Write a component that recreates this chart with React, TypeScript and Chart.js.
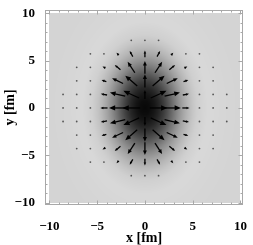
import { useEffect, useRef } from "react";
import { Chart, registerables } from "chart.js";
Chart.register(...registerables);

// Axis ticks and titles
const tickValues = [-10, -5, 0, 5, 10];
const tickLabels = ["−10", "−5", "0", "5", "10"];
const xTitle = "x [fm]";
const yTitle = "y [fm]";

// Vector grid positions (first quadrant, mirrored by symmetry)
const gridPos = [0, 1.43, 2.86, 4.29, 5.71, 7.14, 8.57];
// Arrow x-components (rows: y index, cols: x index), in fm
const arrowU = [
  [0, 1.85, 1.8, 0.75, 0.2, 0.06, 0.04],
  [0, 1.65, 1.6, 0.65, 0.18, 0.05, 0.03],
  [0, 1.25, 1.15, 0.5, 0.14, 0.04, 0],
  [0, 0.75, 0.6, 0.3, 0.08, 0.02, 0],
  [0, 0.32, 0.22, 0.1, 0.03, 0, 0],
  [0, 0.03, 0, 0, 0, 0, 0],
  [0, 0, 0, 0, 0, 0, 0],
];
// Arrow y-components
const arrowV = [
  [0, 0, 0, 0, 0, 0, 0],
  [0.95, 0.75, 0.38, 0.12, 0.03, 0.01, 0.01],
  [1.4, 1.1, 0.55, 0.17, 0.04, 0.01, 0],
  [1.35, 1.15, 0.5, 0.16, 0.04, 0.01, 0],
  [0.7, 0.58, 0.26, 0.08, 0.02, 0, 0],
  [0.12, 0.06, 0, 0, 0, 0, 0],
  [0, 0, 0, 0, 0, 0, 0],
];

// Density (darkness) profile vs elliptic radius
const densityRho = [0, 0.5, 1, 1.5, 2, 2.5, 3, 3.5, 4, 4.5, 5, 5.5, 6, 6.5, 7, 8, 10, 20];
const densityDark = [1.0, 0.98, 0.93, 0.85, 0.74, 0.61, 0.47, 0.34, 0.23, 0.14, 0.07, 0.02, 0.0, -0.02, -0.02, -0.01, 0, 0];
const densityAspect = 1.4;

const FONT = '"Liberation Serif", "Times New Roman", serif';

type Pt = { x: number; y: number; u: number; v: number };
const arrowPoints: Pt[] = [];
for (let j = -6; j <= 6; j++) {
  for (let i = -6; i <= 6; i++) {
    const ai = Math.abs(i), aj = Math.abs(j);
    arrowPoints.push({
      x: Math.sign(i) * gridPos[ai],
      y: Math.sign(j) * gridPos[aj],
      u: Math.sign(i) * arrowU[aj][ai],
      v: Math.sign(j) * arrowV[aj][ai],
    });
  }
}

function darkAt(rho: number) {
  for (let k = 0; k < densityRho.length - 1; k++) {
    if (rho <= densityRho[k + 1]) {
      const t = (rho - densityRho[k]) / (densityRho[k + 1] - densityRho[k]);
      return densityDark[k] + t * (densityDark[k + 1] - densityDark[k]);
    }
  }
  return 0;
}

const BG = 212;
const DARK = 8;
const FRAME = "#a8a8a8";

const fieldPlugin = {
  id: "field",
  beforeDatasetsDraw(chart: any) {
    const { ctx, scales } = chart;
    const xs = scales.x, ys = scales.y;
    const x0 = xs.getPixelForValue(-10), x1 = xs.getPixelForValue(10);
    const y0 = ys.getPixelForValue(10), y1 = ys.getPixelForValue(-10);
    const w = Math.round(x1 - x0), h = Math.round(y1 - y0);
    const off = document.createElement("canvas");
    off.width = w; off.height = h;
    const octx = off.getContext("2d")!;
    const img = octx.createImageData(w, h);
    for (let py = 0; py < h; py++) {
      for (let px = 0; px < w; px++) {
        const dx = xs.getValueForPixel(x0 + px + 0.5);
        const dy = ys.getValueForPixel(y0 + py + 0.5);
        const rho = Math.hypot(dx, dy / densityAspect);
        const d = darkAt(rho);
        const g = Math.max(0, Math.min(255, BG - d * (BG - DARK)));
        const o = (py * w + px) * 4;
        img.data[o] = g; img.data[o + 1] = g; img.data[o + 2] = g; img.data[o + 3] = 255;
      }
    }
    octx.putImageData(img, 0, 0);
    ctx.save();
    ctx.drawImage(off, x0, y0, x1 - x0, y1 - y0);
    ctx.restore();
  },
  afterDatasetsDraw(chart: any) {
    const { ctx, scales, chartArea } = chart;
    const xs = scales.x, ys = scales.y;
    ctx.save();
    // frame
    ctx.strokeStyle = FRAME;
    ctx.lineWidth = 1;
    const L = Math.round(chartArea.left) + 0.5, R = Math.round(chartArea.right) - 0.5;
    const T = Math.round(chartArea.top) + 0.5, B = Math.round(chartArea.bottom) - 0.5;
    ctx.strokeRect(L, T, R - L, B - T);
    ctx.beginPath();
    for (let v = -10; v <= 10; v++) {
      const len = v % 5 === 0 ? 4 : 2;
      const px = Math.round(xs.getPixelForValue(v)) + 0.5;
      ctx.moveTo(px, B); ctx.lineTo(px, B - len);
      ctx.moveTo(px, T); ctx.lineTo(px, T + len);
      const py = Math.round(ys.getPixelForValue(v)) + 0.5;
      ctx.moveTo(L, py); ctx.lineTo(L + len, py);
      ctx.moveTo(R, py); ctx.lineTo(R - len, py);
    }
    ctx.stroke();

    // arrows
    const data: Pt[] = chart.data.datasets[0].data;
    ctx.fillStyle = "#000";
    ctx.strokeStyle = "#000";
    for (const p of data) {
      if (p.u === 0 && p.v === 0) continue;
      const cx = xs.getPixelForValue(p.x), cy = ys.getPixelForValue(p.y);
      const tx = xs.getPixelForValue(p.x + p.u / 2), ty = ys.getPixelForValue(p.y + p.v / 2);
      const sx = xs.getPixelForValue(p.x - p.u / 2), sy = ys.getPixelForValue(p.y - p.v / 2);
      const dx = tx - sx, dy = ty - sy;
      const len = Math.hypot(dx, dy);
      if (len < 3) {
        ctx.globalAlpha = 0.6;
        ctx.beginPath();
        ctx.arc(cx, cy, 0.9, 0, Math.PI * 2);
        ctx.fill();
        ctx.globalAlpha = 1;
        continue;
      }
      const ux = dx / len, uy = dy / len;
      const hl = Math.max(3, len * 0.36);
      const hw = hl * 0.42;
      const bx = tx - ux * hl, by = ty - uy * hl;
      ctx.lineWidth = 1.3;
      ctx.beginPath();
      ctx.moveTo(sx, sy);
      ctx.lineTo(bx + ux * 0.5, by + uy * 0.5);
      ctx.stroke();
      ctx.beginPath();
      ctx.moveTo(tx, ty);
      ctx.lineTo(bx - uy * hw, by + ux * hw);
      ctx.lineTo(bx + uy * hw, by - ux * hw);
      ctx.closePath();
      ctx.fill();
    }
    ctx.restore();
  },
};

export default function App() {
  const ref = useRef<HTMLCanvasElement>(null);
  useEffect(() => {
    const tickFont = { family: FONT, size: 13, weight: "bold" as const, lineHeight: 1.2 };
    const titleFont = { family: FONT, size: 14, weight: "bold" as const, lineHeight: 1 };
    const label = (v: any) => {
      const k = tickValues.indexOf(Number(v));
      return k >= 0 ? tickLabels[k] : "";
    };
    const setTicks = (s: any) => {
      s.ticks = tickValues.map((v) => ({ value: v }));
    };
    const chart = new Chart(ref.current!, {
      type: "scatter",
      data: {
        datasets: [
          {
            data: arrowPoints as any,
            pointRadius: 0,
            showLine: false,
          },
        ],
      },
      options: {
        responsive: false,
        animation: false,
        events: [],
        layout: { padding: { top: 4.5, right: 4.5, left: 0, bottom: 0 } },
        plugins: { legend: { display: false }, tooltip: { enabled: false } },
        scales: {
          x: {
            type: "linear",
            min: -10.46,
            max: 10.29,
            afterBuildTicks: setTicks,
            afterFit: (s: any) => { s.height = 40; },
            grid: { display: false },
            border: { display: false },
            ticks: { padding: 6, color: "#000", font: tickFont, callback: label, maxRotation: 0, autoSkip: false },
            title: { display: true, text: xTitle, color: "#000", font: titleFont, padding: { top: 0, bottom: 0 } },
          },
          y: {
            type: "linear",
            min: -10.24,
            max: 10.36,
            afterBuildTicks: setTicks,
            afterFit: (s: any) => { s.width = 45; },
            grid: { display: false },
            border: { display: false },
            ticks: { padding: 2, color: "#000", font: tickFont, callback: label, autoSkip: false },
            title: { display: true, text: yTitle, color: "#000", font: titleFont, padding: { top: 3.5, bottom: 0 } },
          },
        },
      },
      plugins: [fieldPlugin],
    });
    return () => chart.destroy();
  }, []);
  return (
    <div style={{ position: "absolute", left: 0, top: 0, width: 253, height: 245 }}>
      <canvas ref={ref} width={253} height={245} style={{ display: "block" }} />
    </div>
  );
}
